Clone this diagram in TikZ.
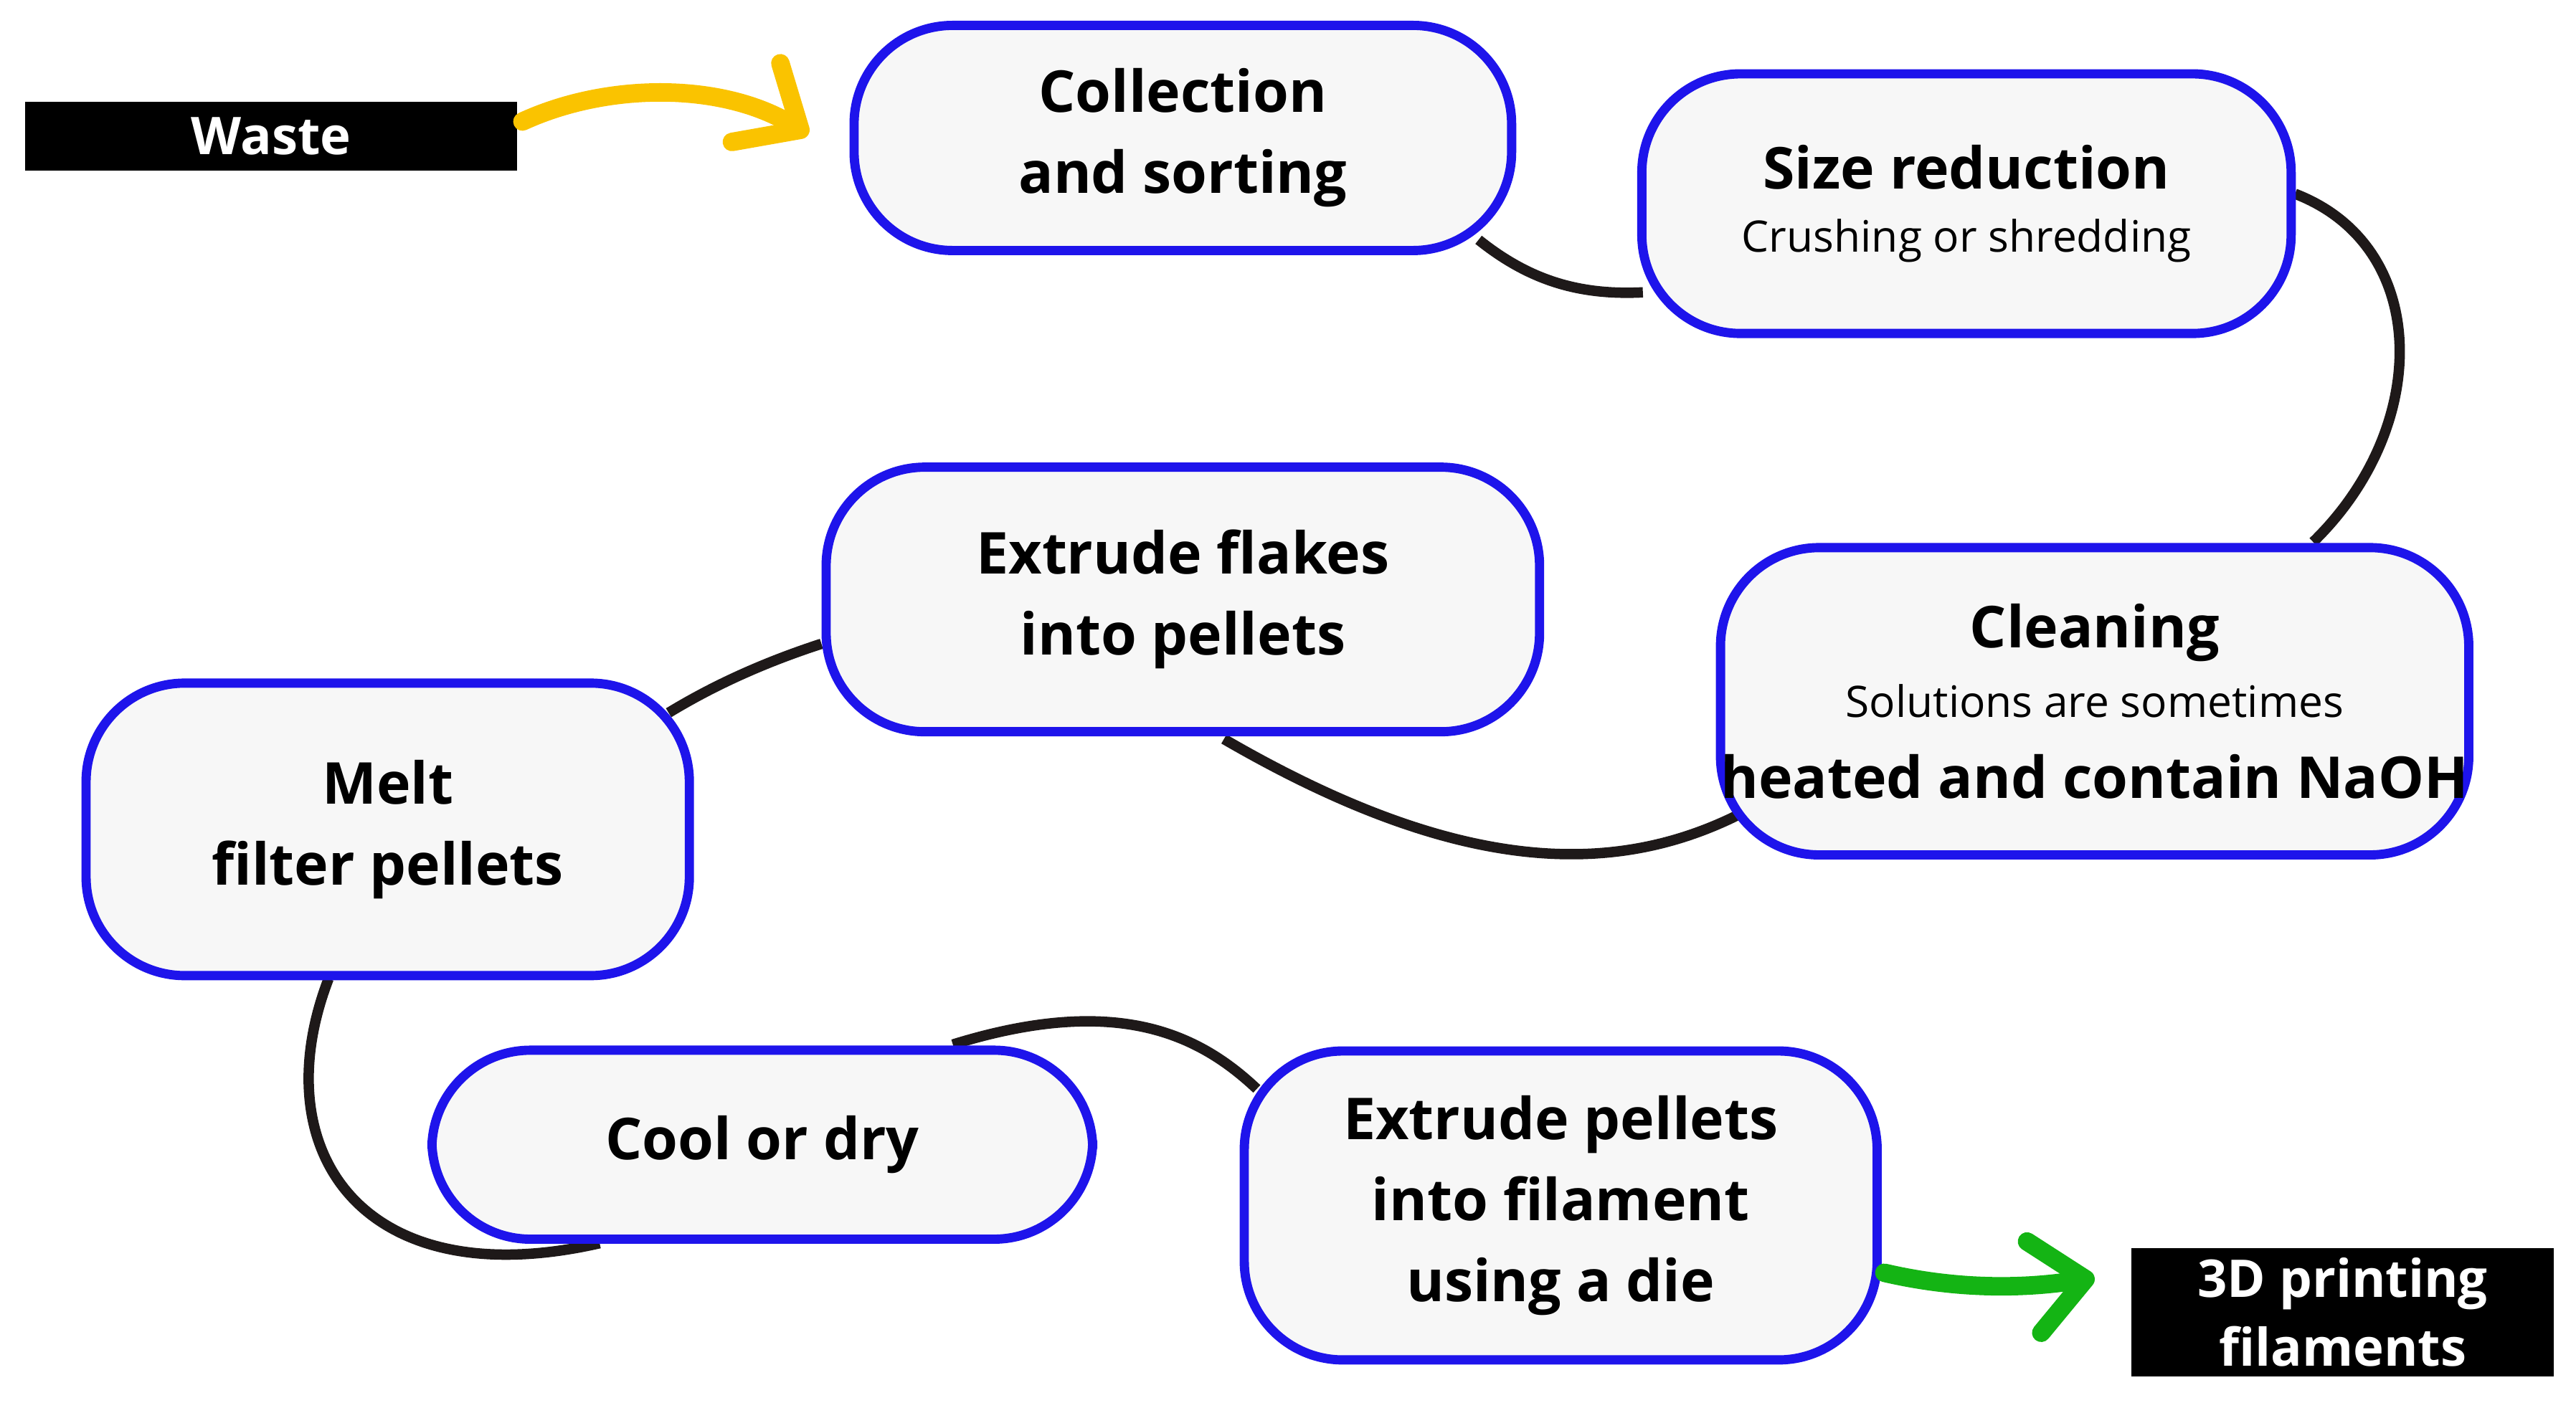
\documentclass[tikz,border=0pt]{standalone}
\usepackage{fontspec}
\setmainfont{Open Sans}
\usetikzlibrary{arrows.meta}
\begin{document}
\begin{tikzpicture}[x=0.01cm,y=-0.01cm,
 box/.style={draw={rgb,255:red,30;green,20;blue,235},line width=1.6pt,fill={rgb,255:red,247;green,247;blue,247},rounded corners=0.6cm,inner sep=0pt,align=center,font=\bfseries\fontsize{10}{14}\selectfont},
 blk/.style={fill=black,text=white,inner sep=0pt,align=center,font=\bfseries\fontsize{9}{12}\selectfont},
 con/.style={line width=1.8pt,draw={rgb,255:red,30;green,25;blue,25}},
 arr/.style={line width=3.2pt,line cap=round,-{Straight Barb[length=9pt,width=16pt,line width=3.2pt,round]}}]
\useasboundingbox (0,0) rectangle (1568,857);
\draw[con] (900,146) .. controls (930,170) and (960,180) .. (1000,178);
\draw[con] (1397,118) .. controls (1480,150) and (1480,260) .. (1408,330);
\draw[con] (1083,482) .. controls (1000,535) and (900,540) .. (745,450);
\draw[con] (500,392) .. controls (460,405) and (430,420) .. (407,434);
\draw[con] (200,596) .. controls (160,700) and (220,790) .. (365,757);
\draw[con] (580,636) .. controls (680,605) and (730,630) .. (765,663);
\node[box,minimum width=4cm,minimum height=1.37cm] (col) at (720,84) {Collection\\and sorting};
\node[box,minimum width=3.95cm,minimum height=1.58cm] (size) at (1197,124) {Size reduction\\[-3pt]\normalfont\fontsize{7.5}{10}\selectfont Crushing or shredding};
\node[box,minimum width=3.84cm,minimum height=1.87cm] (clean) at (1275,427) {Cleaning\\[-2pt]\normalfont\fontsize{7.5}{11}\selectfont Solutions are sometimes\\heated and contain NaOH};
\node[box,minimum width=4.34cm,minimum height=1.61cm] (flk) at (720,365) {Extrude flakes\\into pellets};
\node[box,minimum width=3.67cm,minimum height=1.78cm] (melt) at (236,505) {Melt\\filter pellets};
\node[box,minimum width=4.02cm,minimum height=1.15cm] (cool) at (464,697) {Cool or dry};
\node[box,minimum width=3.85cm,minimum height=1.88cm] (ext) at (950,734) {Extrude pellets\\into filament\\using a die};
\node[blk,minimum width=2.99cm,minimum height=0.42cm] (waste) at (165,83) {Waste};
\node[blk,minimum width=2.57cm,minimum height=0.78cm] (out) at (1426,799) {3D printing\\filaments};
\draw[arr,draw={rgb,255:red,250;green,195;blue,0}] (318,74) .. controls (370,50) and (440,50) .. (492,82);
\draw[arr,draw={rgb,255:red,20;green,180;blue,20}] (1147,775) .. controls (1190,785) and (1230,785) .. (1275,778);
\end{tikzpicture}
\end{document}
